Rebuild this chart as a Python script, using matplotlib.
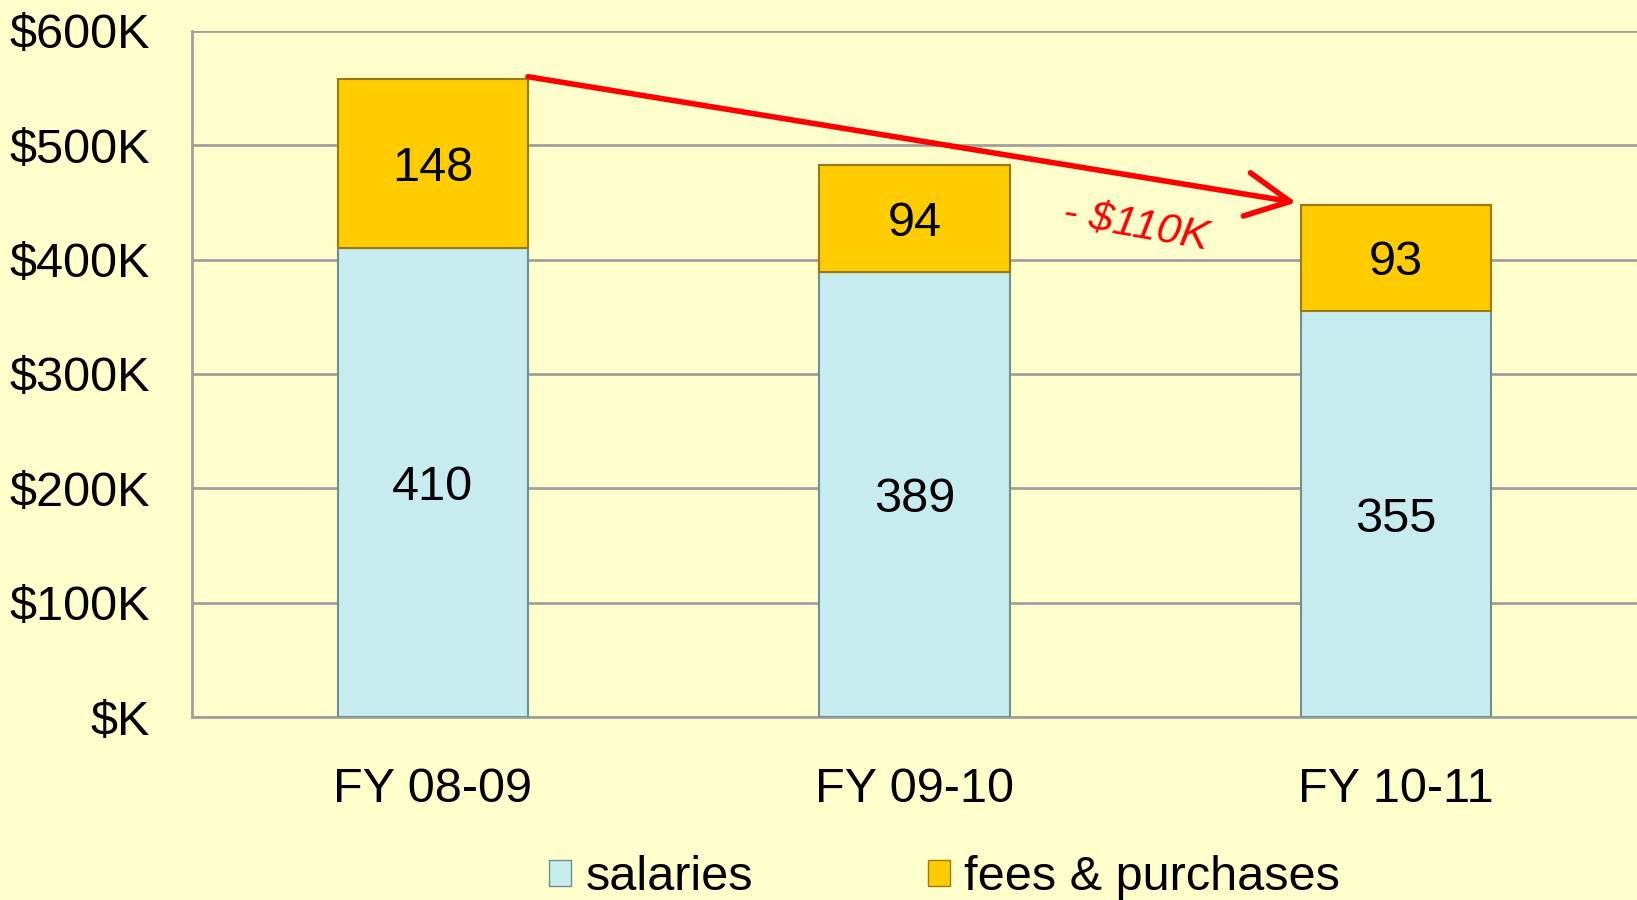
import matplotlib.pyplot as plt
from matplotlib.patches import Patch

plt.rcParams.update({
    "font.family": ["Liberation Sans", "DejaVu Sans"],
    "font.size": 35,
})

years = ["FY 08-09", "FY 09-10", "FY 10-11"]
salaries = [410, 389, 355]
fees = [148, 94, 93]
y_ticks = [0, 100, 200, 300, 400, 500, 600]
y_tick_labels = ["$K", "$100K", "$200K", "$300K", "$400K", "$500K", "$600K"]
change_label = "- $110K"

BG = "#FFFFCC"
SAL_COLOR = "#C6ECF0"
FEE_COLOR = "#FFCC00"

fig = plt.figure(figsize=(16.37, 9.0), dpi=100, facecolor=BG)
ax = fig.add_axes([0.1173, 0.2033, 0.8827, 0.7623])
ax.set_facecolor(BG)

x = list(range(len(years)))
width = 0.395

ax.bar(x, salaries, width=width, color=SAL_COLOR, edgecolor="#6f8f92",
       linewidth=1.5, zorder=3)
ax.bar(x, fees, width=width, bottom=salaries, color=FEE_COLOR,
       edgecolor="#9a7a10", linewidth=1.5, zorder=3)

for i in x:
    ax.text(i, salaries[i] / 2, str(salaries[i]), ha="center",
            va="center_baseline", fontsize=35, zorder=4)
    ax.text(i, salaries[i] + fees[i] / 2, str(fees[i]), ha="center",
            va="center_baseline", fontsize=35, zorder=4)

# red arrow from first total to last total
tot0 = salaries[0] + fees[0]
tot2 = salaries[-1] + fees[-1]
ax.annotate("", xy=(x[-1] - width / 2 - 0.01, tot2 + 2),
            xytext=(x[0] + width / 2, tot0 + 2),
            arrowprops=dict(arrowstyle="->,head_length=0.9,head_width=0.45",
                            color="#FF0000", lw=4, shrinkA=0, shrinkB=0),
            zorder=5)
ax.text(1.46, 430, change_label, color="#FF0000", fontsize=31,
        style="italic", rotation=-10, ha="center", va="center", zorder=5)

ax.set_xlim(-0.5, 2.5)
ax.set_ylim(0, 600)
ax.set_yticks(y_ticks)
ax.set_yticklabels(y_tick_labels)
ax.set_xticks(x)
ax.set_xticklabels(years)
ax.tick_params(axis="y", length=0, pad=30)
ax.tick_params(axis="x", length=0, pad=36)

ax.yaxis.grid(True, color="#A0A0A0", linewidth=2, zorder=0)
ax.set_axisbelow(True)
for s in ["top", "right"]:
    ax.spines[s].set_visible(False)
ax.spines["left"].set_color("#A0A0A0")
ax.spines["left"].set_linewidth(2)
ax.spines["bottom"].set_color("#A0A0A0")
ax.spines["bottom"].set_linewidth(2)

handles = [
    Patch(facecolor=SAL_COLOR, edgecolor="#6f8f92", label="salaries"),
    Patch(facecolor=FEE_COLOR, edgecolor="#9a7a10", label="fees & purchases"),
]
fig.legend(handles=handles, loc="center", bbox_to_anchor=(0.577, 0.025),
           ncol=2, frameon=False, fontsize=35, handlelength=0.45,
           handleheight=0.45, handletextpad=0.3, columnspacing=3.6)

fig.savefig("out.png", dpi=100, facecolor=BG)
